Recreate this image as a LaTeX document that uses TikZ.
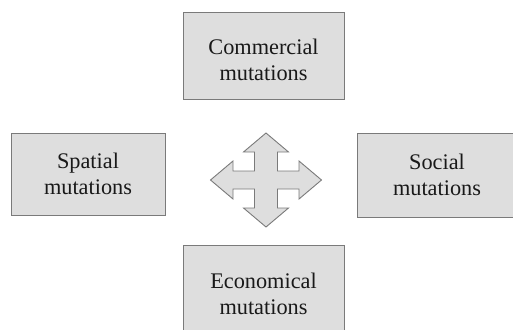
\documentclass[tikz,border=0pt]{standalone}
\usepackage{fontspec}
\setmainfont{Liberation Serif}
\definecolor{boxfill}{HTML}{DEDEDE}
\definecolor{boxline}{HTML}{7A7A7A}
\tikzset{
  mutbox/.style={draw=boxline, fill=boxfill, line width=0.9pt, align=center,
    inner sep=0pt, font=\fontsize{22.3}{26}\selectfont, text=black!90},
  lowtext/.style={text height=49pt, text depth=0pt}
}
\begin{document}
\begin{tikzpicture}[x=1pt, y=-1pt]
    \useasboundingbox (0, 0) rectangle (513, 329);

    \node[mutbox, lowtext, minimum width=161pt, minimum height=87pt] (commercial) at (263.5, 55.5) {Commercial\\mutations};
    \node[mutbox, minimum width=154pt, minimum height=82pt] (spatial) at (88, 174) {Spatial\\mutations};
    \node[mutbox, minimum width=160pt, minimum height=84pt] (social) at (437, 175) {Social\\mutations};
    \node[mutbox, lowtext, minimum width=161pt, minimum height=90pt] (economical) at (263.5, 290) {Economical\\mutations};

    % four-way arrow in the middle
    \draw[draw=boxline, fill=boxfill, line width=0.9pt, shift={(266, 180)}]
        (0, -47) -- (22.5, -28) -- (11.5, -28) -- (11.5, -9) -- (33, -9) -- (33, -19)
        -- (55.5, 0) -- (33, 19) -- (33, 9) -- (11.5, 9) -- (11.5, 28) -- (22.5, 28)
        -- (0, 47) -- (-22.5, 28) -- (-11.5, 28) -- (-11.5, 9) -- (-33, 9) -- (-33, 19)
        -- (-55.5, 0) -- (-33, -19) -- (-33, -9) -- (-11.5, -9) -- (-11.5, -28) -- (-22.5, -28)
        -- cycle;
\end{tikzpicture}
\end{document}
